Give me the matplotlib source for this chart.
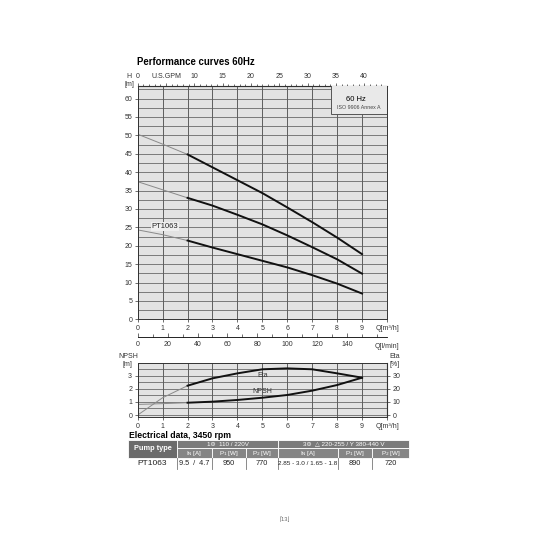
import numpy as np
import matplotlib.pyplot as plt
from matplotlib.patches import Rectangle

plt.rcParams['font.family'] = ['Liberation Sans', 'DejaVu Sans']

# performance curves (Q in m3/h, H in m)
q = [0, 1, 2, 3, 4, 5, 6, 7, 8, 9]
h_top = [50.3, 47.6, 44.8, 41.3, 37.8, 34.3, 30.4, 26.4, 22.2, 17.7]
h_mid = [37.4, 35.2, 33.0, 30.9, 28.4, 25.8, 22.8, 19.6, 16.3, 12.4]
h_bot = [24.3, 23.0, 21.4, 19.5, 17.7, 15.9, 14.1, 12.0, 9.7, 7.0]
# efficiency [%] and NPSH [m]
eta = [0, 13.2, 22.4, 28.0, 31.8, 34.9, 35.6, 34.9, 31.8, 28.5]
npsh = [0.81, 0.87, 0.94, 1.02, 1.15, 1.32, 1.53, 1.86, 2.29, 2.85]

# electrical data table
hdr_1ph = '1Φ  110 / 220V'
hdr_3ph = '3Φ  △ 220-255 / Y 380-440 V'
sub_hdr = [r'I$_{\rm N}$ [A]', r'P$_1$ [W]', r'P$_2$ [W]', r'I$_{\rm N}$ [A]', r'P$_1$ [W]', r'P$_2$ [W]']
row = ['PT1063', '9.5  /  4.7', '950', '770', '2.85 - 3.0 / 1.65 - 1.8', '890', '720']

W = 533.0
def fx(px):
    return px / W
def fy(py):
    return 1 - py / W

bg = '#e3e3e3'
gridc = '#5e5e5e'
dark = '#333333'
k = 3  # first point of the measured (black) part

fig = plt.figure(figsize=(5.33, 5.33), dpi=100)

# ---- main H-Q chart
ax = fig.add_axes([fx(137.7), fy(319.3), (387 - 137.7) / W, (319.3 - 86) / W])
ax.set_facecolor(bg)
ax.set_xlim(0, 10)
ax.set_ylim(0, 63.4)
ax.set_xticks(range(0, 11))
ax.set_xticklabels([str(i) for i in range(10)] + ['Q[m³/h]'])
ax.set_yticks(range(0, 61, 5))
ax.set_yticks(np.arange(2.5, 63, 5), minor=True)
ax.grid(True, which='major', axis='x', color=gridc, lw=0.7)
ax.grid(True, which='both', axis='y', color=gridc, lw=0.55)
ax.set_axisbelow(True)
ax.tick_params(labelsize=5, length=2.5, width=0.5, pad=1.5, colors=dark)
ax.tick_params(which='minor', length=0)
for s in ax.spines.values():
    s.set_color(dark)
    s.set_linewidth(0.7)

for h in [h_top, h_mid, h_bot]:
    ax.plot(q[:k], h[:k], color='#8a8a8a', lw=0.7)
    ax.plot(q[k - 1:], h[k - 1:], color='#111111', lw=1.4)

ax.text(1.1, 25.3, 'PT1063', fontsize=5.5, ha='center', va='center', color='#222222',
        bbox=dict(facecolor='#efefef', edgecolor='none', pad=0.6))

ax.add_patch(Rectangle((7.76, 55.7), 2.3, 8, facecolor='#e9e9e9', edgecolor='#555555',
                       lw=0.7, zorder=5))
ax.text(8.75, 59.8, '60 Hz', fontsize=5.5, ha='center', va='center', zorder=6)
ax.text(8.85, 57.6, 'ISO 9906 Annex A', fontsize=3.8, ha='center', va='center', zorder=6,
        color='#444444')

gpm = ax.secondary_xaxis('top', functions=(lambda x: x * 4.403, lambda x: x / 4.403))
gpm.set_xticks(range(0, 41, 5))
gpm.set_xticklabels(['0', 'U.S.GPM', '10', '15', '20', '25', '30', '35', '40'])
gpm.set_xticks(range(0, 44), minor=True)
gpm.tick_params(labelsize=5, length=2.5, width=0.5, pad=1.5, colors=dark)
gpm.tick_params(which='minor', length=1.5, width=0.4)

lpm = ax.secondary_xaxis(-0.076, functions=(lambda x: x * 1000 / 60, lambda x: x * 60 / 1000))
lpm.set_xticks(range(0, 141, 20))
lpm.set_xticks(range(0, 161, 10), minor=True)
lpm.tick_params(direction='in', labelsize=5, length=3, width=0.5, pad=3, colors=dark)
lpm.tick_params(which='minor', direction='in', length=2, width=0.4)
lpm.spines['bottom'].set_linewidth(0.6)
fig.text(fx(387), fy(347), 'Q[l/min]', fontsize=5, ha='center', va='center', color=dark)

fig.text(fx(129), fy(77), 'H', fontsize=5, ha='center', va='center', color=dark)
fig.text(fx(129), fy(84.5), '[m]', fontsize=5, ha='center', va='center', color=dark)
fig.text(fx(137), fy(62), 'Performance curves 60Hz', fontsize=6.9, fontweight='bold',
         ha='left', va='center')

# ---- NPSH / Eta chart
ax2 = fig.add_axes([fx(137.7), fy(417), (387 - 137.7) / W, (417 - 363) / W])
ax2.set_facecolor(bg)
ax2.set_xlim(0, 10)
ax2.set_ylim(-0.15, 3.97)
ax2.set_xticks(range(0, 11))
ax2.set_xticklabels([str(i) for i in range(10)] + ['Q[m³/h]'])
ax2.set_yticks(range(0, 4))
ax2.set_yticks(np.arange(0.5, 3.9, 1.0), minor=True)
ax2.grid(True, which='major', axis='x', color=gridc, lw=0.7)
ax2.grid(True, which='both', axis='y', color=gridc, lw=0.55)
ax2.set_axisbelow(True)
ax2.tick_params(labelsize=5, length=2.5, width=0.5, pad=1.5, colors=dark)
ax2.tick_params(which='minor', length=0)
for s in ax2.spines.values():
    s.set_color(dark)
    s.set_linewidth(0.7)

eta_m = [e / 10 for e in eta]
ax2.plot(q[:k], eta_m[:k], color='#8a8a8a', lw=0.7)
ax2.plot(q[k - 1:], eta_m[k - 1:], color='#111111', lw=1.4)
ax2.plot(q[:k], npsh[:k], color='#8a8a8a', lw=0.7)
ax2.plot(q[k - 1:], npsh[k - 1:], color='#111111', lw=1.4)
ax2.text(5, 3.0, 'Eta', fontsize=5, ha='center', va='center', color=dark)
ax2.text(5, 1.78, 'NPSH', fontsize=5, ha='center', va='center', color=dark)

sec = ax2.secondary_yaxis('right', functions=(lambda y: y * 10, lambda y: y / 10))
sec.set_yticks([0, 10, 20, 30])
sec.tick_params(labelsize=5, length=2.5, width=0.5, pad=1.5, colors=dark)

fig.text(fx(128), fy(357), 'NPSH', fontsize=5, ha='center', va='center', color=dark)
fig.text(fx(127), fy(364.5), '[m]', fontsize=5, ha='center', va='center', color=dark)
fig.text(fx(395), fy(357), 'Eta', fontsize=5, ha='center', va='center', color=dark)
fig.text(fx(395), fy(365), '[%]', fontsize=5, ha='center', va='center', color=dark)

# ---- electrical data table (pixel coordinates)
tb = fig.add_axes([0, 0, 1, 1], facecolor='none')
tb.set_xlim(0, W)
tb.set_ylim(W, 0)
tb.axis('off')

tb.text(129, 436, 'Electrical data, 3450 rpm', fontsize=6.2, fontweight='bold',
        ha='left', va='center')
cols = [128, 177, 212, 246, 278, 338, 372, 409]
y0, y1, y2, y3 = 440, 448, 457.5, 469

tb.add_patch(Rectangle((cols[0], y0), cols[1] - cols[0], y2 - y0, facecolor='#6b6b6b',
                       edgecolor='white', lw=0.6))
tb.text((cols[0] + cols[1]) / 2, (y0 + y2) / 2, 'Pump type', fontsize=5.3,
        fontweight='bold', color='white', ha='center', va='center')
tb.add_patch(Rectangle((cols[1], y0), cols[4] - cols[1], y1 - y0, facecolor='#7a7a7a',
                       edgecolor='white', lw=0.6))
tb.add_patch(Rectangle((cols[4], y0), cols[7] - cols[4], y1 - y0, facecolor='#7a7a7a',
                       edgecolor='white', lw=0.6))
tb.text((cols[1] + cols[4]) / 2, (y0 + y1) / 2, hdr_1ph, fontsize=4.5, color='white',
        ha='center', va='center')
tb.text((cols[4] + cols[7]) / 2, (y0 + y1) / 2, hdr_3ph, fontsize=4.5, color='white',
        ha='center', va='center')
for i, lab in enumerate(sub_hdr):
    xa, xb = cols[i + 1], cols[i + 2]
    tb.add_patch(Rectangle((xa, y1), xb - xa, y2 - y1, facecolor='#858585',
                           edgecolor='white', lw=0.6))
    tb.text((xa + xb) / 2, (y1 + y2) / 2 + 0.3, lab, fontsize=4.5, color='white',
            ha='center', va='center')
sizes = [6, 5.3, 5.3, 5.3, 4.6, 5.3, 5.3]
for i, val in enumerate(row):
    tb.text((cols[i] + cols[i + 1]) / 2, (y2 + y3) / 2, val,
            fontsize=sizes[i], color='#222222', ha='center', va='center')
for c in cols[1:-1]:
    tb.plot([c, c], [y2, y3], color='#777777', lw=0.6)

tb.text(285, 519, '⌈13⌋', fontsize=4, color='#666666', ha='center', va='center')

fig.savefig('out.png', dpi=100, facecolor='white')
